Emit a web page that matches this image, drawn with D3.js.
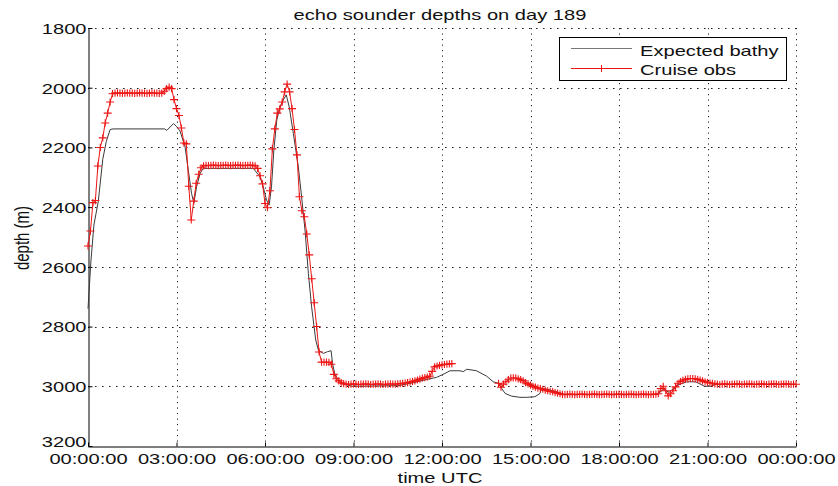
<!DOCTYPE html>
<html><head><meta charset="utf-8">
<script src="https://cdn.jsdelivr.net/npm/d3@7"></script>
<style>
html,body{margin:0;padding:0;background:#fff;}
svg{display:block;font-family:"Liberation Sans",Arial,sans-serif;}
</style></head>
<body><svg id="chart" width="838" height="486"></svg>
<script>
// ---------- data ----------
const title = "echo sounder depths on day 189";
const xLabel = "time UTC";
const yLabel = "depth (m)";
const xTickHours = [0,3,6,9,12,15,18,21,24];
const xTickLabels = ["00:00:00","03:00:00","06:00:00","09:00:00","12:00:00","15:00:00","18:00:00","21:00:00","00:00:00"];
const yTicks = [1800,2000,2200,2400,2600,2800,3000,3200];
const seriesNames = ["Expected bathy","Cruise obs"];

// Expected bathymetry: [hour, depth] vertices
const bathyHours = [0,0.1,0.2,0.35,0.5,0.62,0.75,0.85,2.6,2.67,2.75,2.9,3.0,3.12,3.29,3.4,3.51,3.59,3.68,3.8,3.9,5.6,5.83,5.94,6.05,6.14,6.22,6.3,6.4,6.51,6.62,6.72,6.82,6.96,7.13,7.24,7.36,7.47,7.58,7.72,7.81,7.98,8.12,8.24,8.29,8.37,8.6,8.94,10.5,11.03,11.48,11.82,12.1,12.27,12.61,12.72,12.84,13.17,13.51,13.74,13.91,14.02,14.14,14.36,14.64,14.87,15.15,15.32,15.38,15.55,15.89,16.1,19.3,19.5,19.7,20.0,20.3,20.6,20.9,21.1,21.3,24.0];
const bathyDepth = [2740,2580,2460,2380,2240,2180,2140,2138,2138,2143,2135,2120,2130,2145,2198,2276,2354,2386,2332,2287,2270,2270,2298,2332,2376,2393,2332,2209,2108,2064,2041,2024,2064,2153,2265,2365,2480,2622,2734,2845,2879,2890,2884,2881,2923,2962,2990,3000,2998,2988,2977,2970,2957,2948,2948,2951,2943,2948,2966,2985,2990,3007,3024,3033,3037,3037,3035,3024,3007,3010,3018,3027,3027,3010,3020,2995,2985,2985,3000,3000,2993,2993];

// Cruise observations: one reading every 5 minutes from 00:00, null = no data
const obsStepMinutes = 5;
const obsDepth = [
 2530,2480,2385,2378,2262,2200,2168,2118,2085,2048,2020,
 2018,2017,2018,2019,2018,2017,2018,2018,2019,2018,2017,2018,2018,2019,2018,2017,2018,2018,2019,
 2018,2012,2003,1998,2003,2040,2070,2093,2135,2185,2188,2330,2443,2380,2320,2290,2268,2262,
 2260,2261,2260,2259,2260,2261,2260,2260,2259,2260,2261,2260,2260,2259,2260,2261,2260,2260,2259,2260,
 2262,2270,2295,2322,2388,2402,2345,2205,2138,2085,2071,2048,2014,1988,2014,2070,2140,2225,2365,2412,2432,2490,2560,2640,2720,2800,2885,2919,2919,2919,2920,2926,2960,2975,2982,2988,2991,
 2993,2994,2993,2992,2993,2994,2993,2993,2992,2993,2994,2993,2993,2992,2993,2994,2993,2993,2992,2993,2993,
 2992,2991,2990,2989,2988,2986,2984,2982,2979,2976,2973,2971,2969,2966,2950,2935,2932,2930,2928,2927,2926,2925,2924,
 null,null,null,null,null,null,null,null,null,null,null,null,null,null,null,null,null,null,
 2990,3003,2993,2985,2978,2972,2972,2972,2975,2978,2982,2988,2992,2996,3000,3003,3006,3008,3010,3013,3015,3017,3018,3021,3023,3025,
 3027,3028,3027,3026,3027,3028,3027,3027,3026,3027,3028,3027,3027,3026,3027,3028,3027,3027,3026,3027,3028,3027,3027,3026,3027,3028,3027,3027,3026,3027,3028,3027,3027,3026,3027,3028,3027,3027,3026,
 3025,3008,3000,3015,3032,3025,3015,3002,2990,2984,2980,2977,2975,2974,2974,2975,2977,2979,2982,2985,2987,2989,2990,2992,
 2993,2994,2993,2992,2993,2994,2993,2993,2992,2993,2994,2993,2993,2992,2993,2994,2993,2993,2992,2993,2994,2993,2993,2992,2993,2994,2993,2993,2992,2993,2994,2993,2993
];

// ---------- layout ----------
const svg = d3.select("#chart");
const W = 838, H = 486;
const pL = 88, pR = 796, pT = 28, pB = 446;
const stretch = 1.34;           // reference text is drawn horizontally stretched
const bathyColor = "#3a3a3a", obsColor = "#ee1515";

const x = d3.scaleLinear().domain([0,24]).range([pL,pR]);
const y = d3.scaleLinear().domain([1800,3200]).range([pT,pB]);

svg.append("rect").attr("width",W).attr("height",H).attr("fill","#fff");

// grid
const grid = svg.append("g").attr("stroke","#222").attr("stroke-width",1).attr("fill","none");
grid.selectAll("line.v").data(xTickHours.filter(h=>h>0)).join("line").attr("class","v")
  .attr("x1",d=>Math.round(x(d))+0.5).attr("x2",d=>Math.round(x(d))+0.5)
  .attr("y1",pT).attr("y2",pB).attr("stroke-dasharray","1.2,4.3");
grid.selectAll("line.h").data(yTicks.filter(v=>v<3200)).join("line").attr("class","h")
  .attr("y1",d=>Math.round(y(d))+0.5).attr("y2",d=>Math.round(y(d))+0.5)
  .attr("x1",pL).attr("x2",pR).attr("stroke-dasharray","1.6,5.4");

// axes
const fontSize = 15;
const yAxis = d3.axisLeft(y).tickValues(yTicks).tickFormat(d3.format("d")).tickSizeInner(-4).tickSizeOuter(0).tickPadding(2);
const gy = svg.append("g").attr("transform",`translate(${pL+0.5},0)`).call(yAxis);
gy.select(".domain").attr("stroke","#000");
gy.selectAll(".tick line").attr("stroke","#000");
gy.selectAll(".tick text").attr("font-size",fontSize).attr("font-family","Liberation Sans, Arial, sans-serif")
  .attr("fill","#111").attr("dy",d=>d===3200?"0.02em":"0.36em");

const xAxis = d3.axisBottom(x).tickValues(xTickHours).tickFormat((d,i)=>xTickLabels[i]).tickSizeInner(-4).tickSizeOuter(0).tickPadding(0);
const gx = svg.append("g").attr("transform",`translate(0,${pB+0.5})`).call(xAxis);
gx.select(".domain").attr("stroke","#000");
gx.selectAll(".tick line").attr("stroke","#000");
gx.selectAll(".tick text").attr("font-size",fontSize).attr("font-family","Liberation Sans, Arial, sans-serif")
  .attr("fill","#111").attr("y",17.5).attr("dy","0");

// title & labels
svg.append("text").attr("class","stretch").attr("x",(pL+pR)/2-2).attr("y",20).attr("text-anchor","middle")
  .attr("font-size",fontSize).attr("fill","#111").text(title);
svg.append("text").attr("class","stretch").attr("x",(pL+pR)/2-2).attr("y",483).attr("text-anchor","middle")
  .attr("font-size",fontSize).attr("fill","#111").text(xLabel);
svg.append("text").attr("transform",`translate(29,${(pT+pB)/2+1}) scale(${stretch},1) rotate(-90)`).attr("text-anchor","middle")
  .attr("font-size",fontSize).attr("fill","#111").text(yLabel);

// bathy line
const bathy = bathyHours.map((h,i)=>({h, d:bathyDepth[i]}));
svg.append("path").datum(bathy).attr("fill","none").attr("stroke",bathyColor).attr("stroke-width",1)
  .attr("d",d3.line().x(p=>x(p.h)).y(p=>y(p.d)));

// observations
const obs = obsDepth.map((d,i)=>({h:i*obsStepMinutes/60, d}));
svg.append("path").datum(obs).attr("fill","none").attr("stroke",obsColor).attr("stroke-width",1)
  .attr("d",d3.line().defined(p=>p.d!=null).x(p=>x(p.h)).y(p=>y(p.d)));
const mw = 4, mh = 3.6;
svg.append("path").attr("fill","none").attr("stroke",obsColor).attr("stroke-width",1.1)
  .attr("d",obs.filter(p=>p.d!=null).map(p=>{const px=x(p.h),py=y(p.d);return `M${px-mw},${py}h${2*mw}M${px},${py-mh}v${2*mh}`;}).join(""));

// legend
const lg = svg.append("g");
lg.append("rect").attr("x",559.5).attr("y",37.5).attr("width",227).attr("height",43)
  .attr("fill","#fff").attr("stroke","#000").attr("stroke-width",1);
lg.append("line").attr("x1",571).attr("x2",632).attr("y1",48.5).attr("y2",48.5).attr("stroke","#777").attr("stroke-width",1);
lg.append("line").attr("x1",571).attr("x2",632).attr("y1",68.5).attr("y2",68.5).attr("stroke",obsColor).attr("stroke-width",1);
lg.append("line").attr("x1",601.5).attr("x2",601.5).attr("y1",65).attr("y2",72).attr("stroke",obsColor).attr("stroke-width",1);
lg.append("text").attr("class","stretch").attr("x",640).attr("y",56).attr("font-size",fontSize).attr("fill","#111").text(seriesNames[0]);
lg.append("text").attr("class","stretch").attr("x",640).attr("y",75).attr("font-size",fontSize).attr("fill","#111").text(seriesNames[1]);

// horizontal stretch of the text, as in the reference
svg.selectAll("text.stretch, .tick text").each(function(){
  const w = this.getComputedTextLength();
  d3.select(this).attr("textLength",(w*stretch).toFixed(1)).attr("lengthAdjust","spacingAndGlyphs");
});
</script>
</body></html>
